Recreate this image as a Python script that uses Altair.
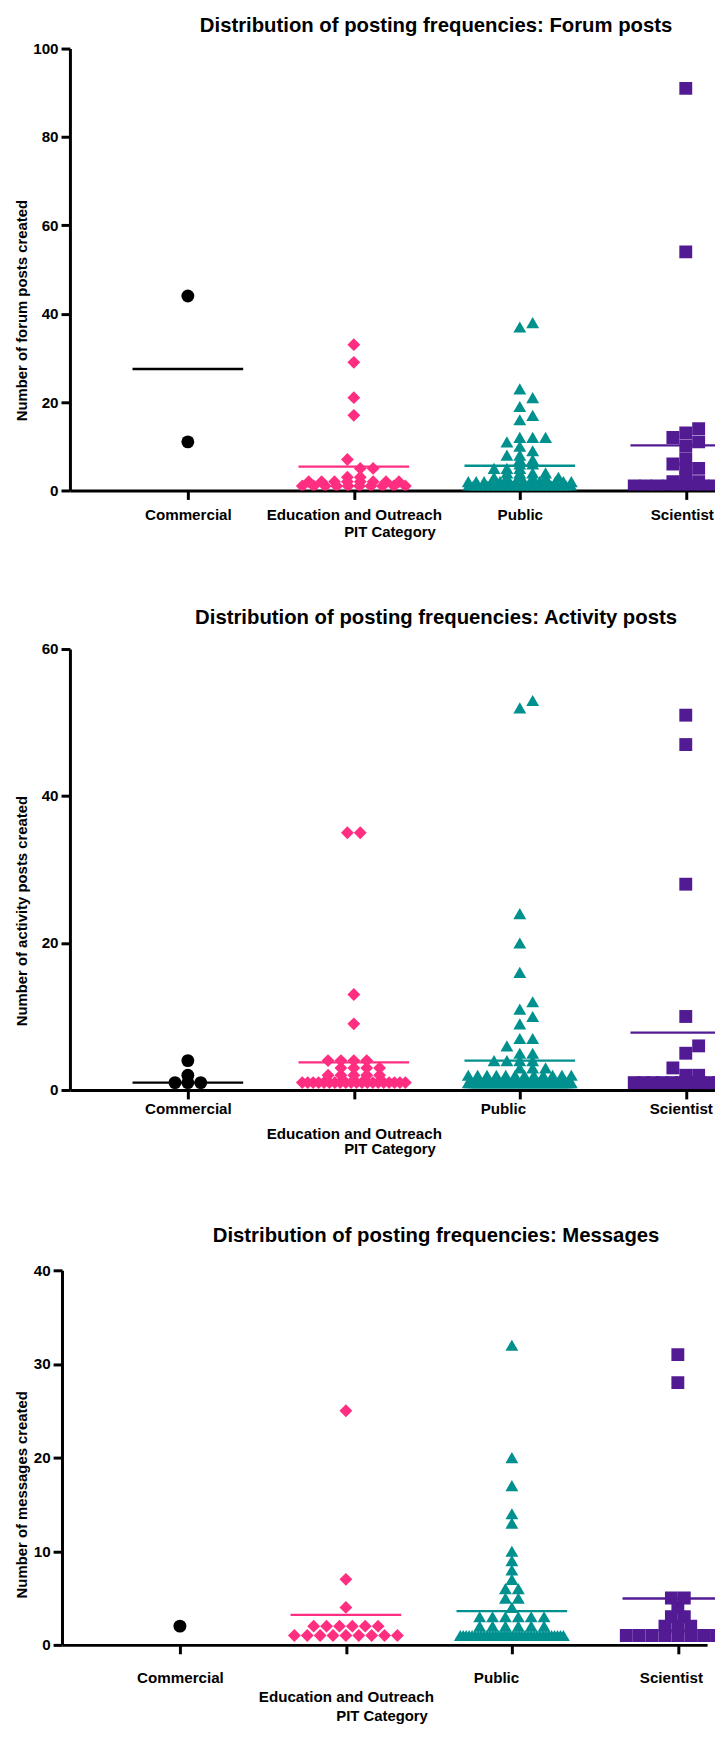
import altair as alt
import pandas as pd

# ---------------- data ----------------
categories = ["Commercial", "Education and Outreach", "Public", "Scientist"]
colors = ["#000000", "#FF2E80", "#00918F", "#531B93"]
shapes = ["circle", "diamond", "triangle-up", "square"]

# Forum posts
forum_commercial = [44, 11]
forum_education = [33, 29, 21, 17, 7, 5, 5, 3, 3, 2, 2, 2, 2, 2, 2, 2, 2,
                   1, 1, 1, 1, 1, 1, 1, 1, 1, 1]
forum_public = [38, 37, 23, 21, 19, 17, 16, 12, 12, 12, 11, 10, 9, 8, 8, 7, 7,
                6, 6, 5, 5, 5, 4, 4, 4, 4, 3, 3, 3, 3, 3, 3,
                2, 2, 2, 2, 2, 2, 2, 2, 2, 2, 2, 2, 2, 2,
                1, 1, 1, 1, 1, 1, 1, 1, 1, 1, 1, 1, 1, 1, 1, 1, 1, 1, 1, 1, 1, 1]
forum_scientist = [91, 54, 14, 13, 12, 11, 10, 7, 6, 5, 5, 3, 2, 2, 2,
                   1, 1, 1, 1, 1, 1, 1, 1, 1, 1]
forum_means = [27.5, 5.4, 5.6, 10.2]

# Activity posts
activity_commercial = [4, 2, 1, 1, 1]
activity_education = [35, 35, 13, 9, 4, 4, 4, 4, 3, 3, 3, 3, 2, 2, 2, 2, 2,
                      1, 1, 1, 1, 1, 1, 1, 1, 1, 1, 1, 1, 1, 1, 1, 1, 1, 1, 1, 1]
activity_public = [53, 52, 24, 20, 16, 12, 11, 10, 9, 7, 7, 6, 5, 5, 4, 4, 4, 4,
                   3, 3, 3, 2, 2, 2, 2, 2, 2, 2, 2, 2, 2, 2, 2,
                   1, 1, 1, 1, 1, 1, 1, 1, 1, 1, 1, 1, 1, 1, 1, 1, 1, 1, 1, 1, 1,
                   1, 1, 1, 1, 1, 1, 1, 1, 1, 1, 1, 1, 1, 1, 1, 1, 1, 1, 1, 1, 1]
activity_scientist = [51, 47, 28, 10, 6, 5, 3, 2, 2,
                      1, 1, 1, 1, 1, 1, 1, 1, 1, 1, 1, 1]
activity_means = [1.0, 3.75, 4.0, 7.8]

# Messages
messages_commercial = [2]
messages_education = [25, 7, 4, 2, 2, 2, 2, 2, 2, 1, 1, 1, 1, 1, 1, 1, 1, 1]
messages_public = [32, 20, 17, 14, 13, 10, 9, 8, 7, 6, 6, 5, 5, 4,
                   3, 3, 3, 3, 3, 3, 2, 2, 2, 2, 2, 2,
                   1, 1, 1, 1, 1, 1, 1, 1, 1, 1, 1, 1, 1, 1, 1, 1, 1, 1,
                   1, 1, 1, 1, 1, 1, 1, 1, 1, 1, 1, 1, 1, 1, 1, 1, 1, 1]
messages_scientist = [31, 28, 5, 5, 4, 3, 3, 2, 2, 2, 1, 1, 1, 1, 1, 1, 1, 1, 1]
messages_means = [None, 3.2, 3.6, 4.95]

FONT = "Liberation Sans"
PLOT_W = 651
STEP = 167.5         # px between categories
FIRST = 119.0        # px from y axis to first category
MARK = 13.0          # marker width in px
HALF = 52.0          # max half spread of marker centres in px
NUDGE = 13.0         # max sideways nudge of a row that would overlap
XDOM = [1 - FIRST / STEP, 1 + (PLOT_W - FIRST) / STEP]


def spread(values, ppu):
    """Prism-like scatter: equal values side by side, rows nudged a little."""
    counts = {}
    for v in values:
        counts[v] = counts.get(v, 0) + 1
    placed, out = [], []
    for v in sorted(counts):
        n = counts[v]
        s = 0 if n == 1 else min(MARK, 2 * HALF / (n - 1))
        half_row = (n - 1) / 2 * s
        maxc = min(NUDGE, max(0.0, HALF - half_row))
        cands, k = [0.0], 1
        while k * MARK / 2 <= maxc + 1e-9:
            cands += [k * MARK / 2, -k * MARK / 2]
            k += 1
        y = v * ppu
        best = None
        for c in cands:
            xs = [c + (i - (n - 1) / 2) * s for i in range(n)]
            hits = sum(1 for (py, px) in placed for x in xs
                       if abs(py - y) < 0.7 * MARK and abs(px - x) < 0.9 * MARK)
            if best is None or hits < best[0]:
                best = (hits, xs)
            if hits == 0:
                break
        for x in best[1]:
            placed.append((y, x))
            out.append((v, x))
    return out


def panel(groups, means, ymax, ticks, ytitle, title, height, multiline,
          shift, ytitle_x, ytitle_y, title_off, lab_pad, line_h, xtitle_y,
          off_public, off_sci):
    ppu = height / ymax
    rows = []
    for ci, vals in enumerate(groups):
        for v, off in spread(vals, ppu):
            rows.append({"cat": categories[ci], "xpos": ci + 1 + off / STEP,
                         "value": v})
    pts = pd.DataFrame(rows)
    mrows = [{"cat": categories[i], "x1": i + 1 - 1 / 3, "x2": i + 1 + 1 / 3,
              "m": m} for i, m in enumerate(means) if m is not None]
    mdf = pd.DataFrame(mrows)

    if multiline:
        lab = ("datum.value == 1 ? 'Commercial' : datum.value == 2 ? "
               "['', 'Education and Outreach'] : datum.value == 3 ? "
               "'Public' : 'Scientist'")
    else:
        lab = ("datum.value == 1 ? 'Commercial' : datum.value == 2 ? "
               "'Education and Outreach' : datum.value == 3 ? "
               "'Public' : 'Scientist'")
    loff = {"condition": [{"test": "datum.value == 3", "value": off_public},
                          {"test": "datum.value == 4", "value": off_sci}],
            "value": 0}

    xscale = alt.Scale(domain=XDOM, range=[-shift, PLOT_W - shift],
                       nice=False, zero=False)
    xaxis = alt.Axis(values=[1, 2, 3, 4], labelExpr=lab, labelOffset=loff,
                     title="PIT Category", titleX=(PLOT_W - 6) / 2 - shift,
                     titleY=xtitle_y, titleAlign="center",
                     titleBaseline="middle", labelPadding=lab_pad,
                     labelLineHeight=line_h, labelOverlap=False,
                     labelFlush=False, labelBound=False)
    yscale = alt.Scale(domain=[0, ymax], nice=False, zero=True)
    yaxis = alt.Axis(values=ticks, title=ytitle, offset=shift, labelPadding=3,
                     titleAngle=270, titleX=ytitle_x, titleY=ytitle_y,
                     titleAlign="center", titleBaseline="middle")

    cscale = alt.Scale(domain=categories, range=colors)
    rules = alt.Chart(mdf).mark_rule(strokeWidth=2.4, clip=True).encode(
        x=alt.X("x1:Q", scale=xscale, axis=xaxis),
        x2="x2:Q",
        y=alt.Y("m:Q", scale=yscale, axis=yaxis),
        color=alt.Color("cat:N", scale=cscale, legend=None),
    )
    points = alt.Chart(pts).mark_point(filled=True, opacity=1, size=MARK * MARK,
                                       strokeWidth=0, clip=True).encode(
        x=alt.X("xpos:Q", scale=xscale, axis=xaxis),
        y=alt.Y("value:Q", scale=yscale, axis=yaxis),
        color=alt.Color("cat:N", scale=cscale, legend=None),
        shape=alt.Shape("cat:N", scale=alt.Scale(domain=categories, range=shapes),
                        legend=None),
    )
    return alt.layer(rules, points).properties(
        width=PLOT_W, height=height,
        title=alt.Title(title, fontSize=20.5, font=FONT, fontWeight="bold",
                        color="black", anchor="middle", frame="group",
                        offset=title_off, dx=44),
    )


p1 = panel([forum_commercial, forum_education, forum_public, forum_scientist],
           forum_means, 100, [0, 20, 40, 60, 80, 100],
           "Number of forum posts created",
           "Distribution of posting frequencies: Forum posts", 446, False,
           0, -49, 264, 5, 8, 22, 41, 0, -4)
p2 = panel([activity_commercial, activity_education, activity_public,
            activity_scientist],
           activity_means, 60, [0, 20, 40, 60],
           "Number of activity posts created",
           "Distribution of posting frequencies: Activity posts", 445, True,
           0, -49, 264, 13.5, 2.5, 25, 59, -17, -5)
p3 = panel([messages_commercial, messages_education, messages_public,
            messages_scientist],
           messages_means, 40, [0, 10, 20, 30, 40],
           "Number of messages created",
           "Distribution of posting frequencies: Messages", 378, True,
           8, -41, 226, 17, 17, 19, 71, -16, -7)

chart = alt.vconcat(p1, p2, p3, spacing=70).properties(
    padding={"left": 6.5, "top": 0, "right": 0, "bottom": 0}
).configure_view(stroke=None).configure_axis(
    grid=False,
    domainColor="black", domainWidth=3,
    tickColor="black", tickWidth=3, tickSize=9,
    labelFont=FONT, labelFontWeight="bold", labelFontSize=15.3,
    labelColor="black",
    titleFont=FONT, titleFontWeight="bold", titleFontSize=15,
    titleColor="black",
)

chart.save("out.html", embed_options={"renderer": "svg", "actions": False})
